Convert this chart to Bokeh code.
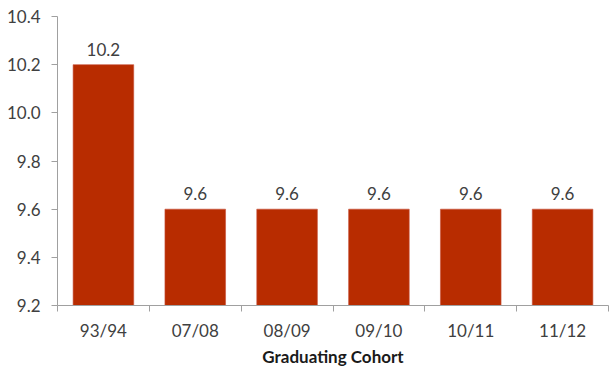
from bokeh.plotting import figure
from bokeh.models import ColumnDataSource, Range1d, FixedTicker, PrintfTickFormatter
from bokeh.core.properties import value
from bokeh.embed import file_html
from bokeh.resources import INLINE

cohorts = ["93/94", "07/08", "08/09", "09/10", "10/11", "11/12"]
values = [10.2, 9.6, 9.6, 9.6, 9.6, 9.6]
y_ticks = [9.2, 9.4, 9.6, 9.8, 10.0, 10.2, 10.4]

FONT = "Lato"
BAR = "#B82C00"
TEXT = "#404040"
AXIS = "#A0A0A0"

centers = [i + 0.5 for i in range(len(cohorts))]
bounds = list(range(len(cohorts) + 1))
src = ColumnDataSource(dict(x=centers, top=values, lab=["%.1f" % v for v in values]))

p = figure(width=609, height=369, output_backend="svg", toolbar_location=None,
           x_range=Range1d(0, len(cohorts)), y_range=Range1d(9.2, 10.4),
           min_border_left=57, min_border_right=1, min_border_top=16, min_border_bottom=20)
p.outline_line_color = None
p.xgrid.visible = False
p.ygrid.visible = False
p.background_fill_color = "white"
p.border_fill_color = "white"

p.vbar(x="x", top="top", bottom=9.2, width=0.66, source=src,
       fill_color=BAR, line_color="#C8503A", line_width=0.6)
p.text(x="x", y="top", text="lab", source=src, text_align="center", text_baseline="bottom",
       y_offset=-9, text_font=value(FONT), text_font_size="17px", text_color=TEXT)

xa = p.xaxis[0]
xa.ticker = FixedTicker(ticks=centers, minor_ticks=bounds)
xa.major_label_overrides = {c: lab for c, lab in zip(centers, cohorts)}
xa.major_tick_line_color = None
xa.major_tick_out = 0
xa.major_tick_in = 0
xa.minor_tick_line_color = AXIS
xa.minor_tick_out = 6
xa.minor_tick_in = 0
xa.axis_line_color = AXIS
xa.major_label_text_font = FONT
xa.major_label_text_font_size = "17px"
xa.major_label_text_color = TEXT
xa.major_label_standoff = 8
xa.axis_label = "Graduating Cohort"
xa.axis_label_text_font = FONT
xa.axis_label_text_font_size = "17px"
xa.axis_label_text_font_style = "bold"
xa.axis_label_text_color = "#1A1A1A"
xa.axis_label_standoff = 2

ya = p.yaxis[0]
ya.ticker = FixedTicker(ticks=y_ticks)
ya.formatter = PrintfTickFormatter(format="%.1f")
ya.axis_line_color = AXIS
ya.major_tick_line_color = AXIS
ya.major_tick_out = 6
ya.major_tick_in = 0
ya.minor_tick_line_color = None
ya.major_label_text_font = FONT
ya.major_label_text_font_size = "17px"
ya.major_label_text_color = TEXT
ya.major_label_standoff = 11

open("out.html", "w").write(file_html(p, INLINE))
